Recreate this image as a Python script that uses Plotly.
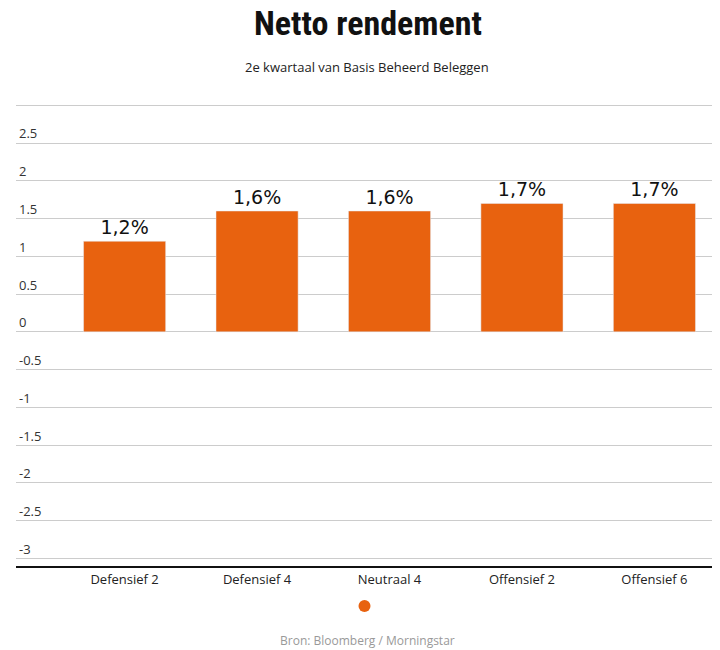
import plotly.graph_objects as go

categories = ["Defensief 2", "Defensief 4", "Neutraal 4", "Offensief 2", "Offensief 6"]
values = [1.2, 1.6, 1.6, 1.7, 1.7]
labels = ["1,2%", "1,6%", "1,6%", "1,7%", "1,7%"]
tick_vals = [3, 2.5, 2, 1.5, 1, 0.5, 0, -0.5, -1, -1.5, -2, -2.5, -3]
tick_text = ["3", "2.5", "2", "1.5", "1", "0.5", "0", "-0.5", "-1", "-1.5", "-2", "-2.5", "-3"]

ORANGE = "#E8620F"

fig = go.Figure()
fig.add_trace(go.Bar(
    x=categories, y=values, text=labels, textposition="outside",
    textfont=dict(size=19, color="#111", family="DejaVu Sans"),
    marker_color=ORANGE, width=0.62, cliponaxis=False, showlegend=False,
))
# legend dot only
fig.add_trace(go.Scatter(x=[None], y=[None], mode="markers", name="",
                         marker=dict(color=ORANGE, size=14, symbol="circle"), showlegend=True))

fig.update_layout(
    width=720, height=650,
    plot_bgcolor="white", paper_bgcolor="white",
    margin=dict(l=8, r=10, t=95, b=92),
    title=dict(text="<b>Netto rendement</b>", x=0.5, xanchor="center", y=0.995, yanchor="top",
               font=dict(size=34, family="Roboto Condensed, Liberation Sans Narrow, Roboto", color="#111")),
    bargap=0.38,
    legend=dict(orientation="h", x=0.5, xanchor="center", y=-0.055, yanchor="top",
                font=dict(size=1), itemsizing="constant"),
    annotations=[
        dict(text="2e kwartaal van Basis Beheerd Beleggen", x=0.5, y=1.055, xref="paper", yref="paper",
             showarrow=False, font=dict(size=13, color="#222", family="Open Sans"), yanchor="bottom"),
        dict(text="Bron: Bloomberg / Morningstar", x=0.5, y=-0.16, xref="paper", yref="paper",
             showarrow=False, font=dict(size=12, color="#999", family="Open Sans"), yanchor="middle"),
    ],
)
fig.update_yaxes(range=[-3.1, 3.03], tickvals=tick_vals, ticktext=tick_text,
                 ticklabelposition="inside top", gridcolor="#cccccc", gridwidth=1,
                 zeroline=True, zerolinecolor="#cccccc", zerolinewidth=1,
                 tickfont=dict(size=13, color="#333", family="Open Sans"))
fig.update_xaxes(showline=True, linecolor="#111", linewidth=2,
                 tickfont=dict(size=13, color="#222", family="Open Sans"),
                 range=[-0.82, 4.48])

fig.write_html("out.html")
